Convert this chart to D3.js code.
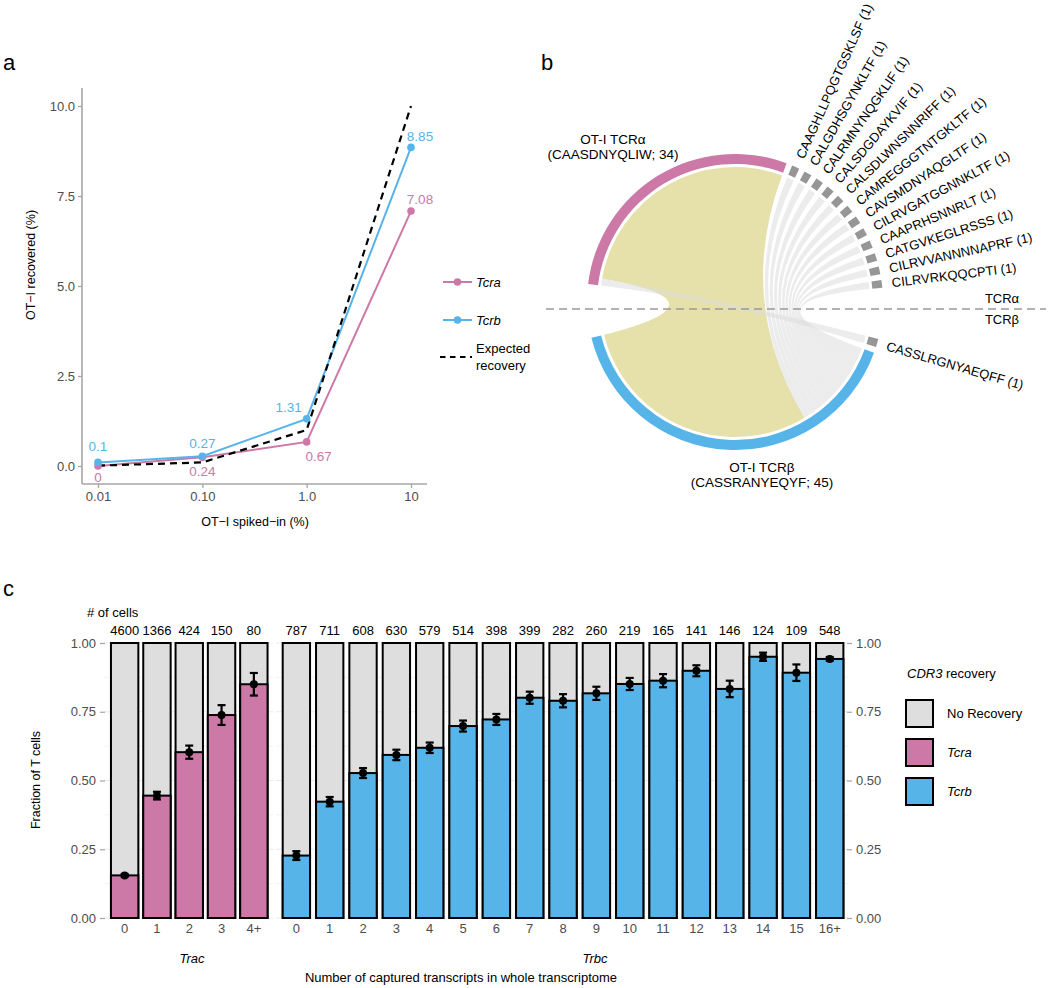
<!DOCTYPE html>
<html><head><meta charset="utf-8">
<script src="https://cdn.jsdelivr.net/npm/d3@7"></script>
<style>
body{margin:0;background:#fff}
text{font-family:"Liberation Sans",Arial,Helvetica,sans-serif}
</style>
</head><body>
<svg id="fig" width="1050" height="988"></svg>
<script>
// ---------------- DATA ----------------
// Panel a
const spikeIn = [0.01, 0.1, 1, 10];
const spikeTickLabels = ["0.01", "0.10", "1.0", "10"];
const tcraRecovered = [0, 0.24, 0.67, 7.08];
const tcrbRecovered = [0.1, 0.27, 1.31, 8.85];
const expectedRecovery = [0.01, 0.1, 1, 10];
const recoveredTicks = [0, 2.5, 5, 7.5, 10];

// Panel b
const alphaClones = ["OT-I TCRα", "CAAGHLLPQGTGSKLSF", "CALGDHSGYNKLTF", "CALRMNYNQGKLIF",
  "CALSDGDAYKVIF", "CALSDLWNSNNRIFF", "CAMREGGGTNTGKLTF", "CAVSMDNYAQGLTF",
  "CILRVGATGGNNKLTF", "CAAPRHSNNRLT", "CATGVKEGLRSSS", "CILRVVANNNNAPRF", "CILRVRKQQCPTI"];
const alphaCounts = [34, 1, 1, 1, 1, 1, 1, 1, 1, 1, 1, 1, 1];
const betaClones = ["OT-I TCRβ", "CASSLRGNYAEQFF"];
const betaCounts = [45, 1];
const pairAlpha = [0, 0, 1, 2, 3, 4, 5, 6, 7, 8, 9, 10, 11, 12];
const pairBeta  = [0, 1, 0, 0, 0, 0, 0, 0, 0, 0, 0, 0, 0, 0];
const pairCells = [33, 1, 1, 1, 1, 1, 1, 1, 1, 1, 1, 1, 1, 1];

// Panel c
const tracBins = ["0", "1", "2", "3", "4+"];
const tracCells = [4600, 1366, 424, 150, 80];
const tracFraction = [0.155, 0.445, 0.603, 0.738, 0.850];
const tracError = [0.005, 0.014, 0.024, 0.036, 0.041];
const trbcBins = ["0","1","2","3","4","5","6","7","8","9","10","11","12","13","14","15","16+"];
const trbcCells = [787, 711, 608, 630, 579, 514, 398, 399, 282, 260, 219, 165, 141, 146, 124, 109, 548];
const trbcFraction = [0.227, 0.423, 0.527, 0.593, 0.619, 0.698, 0.722, 0.801, 0.790, 0.817, 0.851, 0.863, 0.899, 0.833, 0.950, 0.892, 0.942];
const trbcError = [0.016, 0.017, 0.018, 0.019, 0.019, 0.020, 0.020, 0.022, 0.024, 0.024, 0.022, 0.024, 0.020, 0.030, 0.015, 0.030, 0.007];
const fractionTicks = [0, 0.25, 0.5, 0.75, 1];

// ---------------- STYLE ----------------
const PINK = "#CC79A7", BLUE = "#56B4E9", GREYBAR = "#DEDEDE", YELLOW = "#E6E1AB";
const AXISGREY = "#A6A6A6", TICKTXT = "#4D4D4D";

const svg = d3.select("#fig");

// panel letters
svg.append("text").attr("x", 3).attr("y", 70).attr("font-size", 22).text("a");
svg.append("text").attr("x", 541).attr("y", 70).attr("font-size", 22).text("b");
svg.append("text").attr("x", 3).attr("y", 596).attr("font-size", 22).text("c");

// ================= PANEL A =================
(function(){
  const x = d3.scaleLog().domain([0.01, 10]).range([98, 411]);
  const y = d3.scaleLinear().domain([0, 10]).range([466, 106]);
  const g = svg.append("g");
  g.append("line").attr("x1", 82).attr("x2", 82).attr("y1", 88).attr("y2", 484)
    .attr("stroke", AXISGREY).attr("stroke-width", 1.6);
  g.append("line").attr("x1", 82).attr("x2", 427).attr("y1", 484).attr("y2", 484)
    .attr("stroke", AXISGREY).attr("stroke-width", 1.6);
  const ya = g.append("g").attr("transform", "translate(82,0)")
    .call(d3.axisLeft(y).tickValues(recoveredTicks).tickFormat(d3.format(".1f")).tickSize(4).tickPadding(3));
  const xa = g.append("g").attr("transform", "translate(0,484)")
    .call(d3.axisBottom(x).tickValues(spikeIn).tickFormat((d,i)=>spikeTickLabels[i]).tickSize(4).tickPadding(4));
  [ya, xa].forEach(a => {
    a.select(".domain").remove();
    a.selectAll(".tick line").attr("stroke", AXISGREY).attr("stroke-width", 1.3);
    a.selectAll(".tick text").attr("fill", TICKTXT).attr("font-size", 13)
      .attr("font-family", '"Liberation Sans",Arial,sans-serif');
  });
  g.append("text").attr("transform", "translate(31,265) rotate(-90)").attr("text-anchor", "middle")
    .attr("dy", "0.35em").attr("font-size", 12.5).text("OT\u2212I recovered (%)");
  g.append("text").attr("x", 255).attr("y", 522).attr("text-anchor", "middle")
    .attr("dy", "0.35em").attr("font-size", 12.5).text("OT\u2212I spiked\u2212in (%)");

  const line = d3.line().x(d => x(d[0])).y(d => y(d[1]));
  const expPts = spikeIn.map((s,i)=>[s, expectedRecovery[i]]);
  const raPts = spikeIn.map((s,i)=>[s, tcraRecovered[i]]);
  const rbPts = spikeIn.map((s,i)=>[s, tcrbRecovered[i]]);
  g.append("path").attr("d", line(raPts)).attr("fill", "none").attr("stroke", PINK).attr("stroke-width", 2);
  g.append("path").attr("d", line(rbPts)).attr("fill", "none").attr("stroke", BLUE).attr("stroke-width", 2);
  g.append("path").attr("d", line(expPts)).attr("fill", "none").attr("stroke", "#000")
    .attr("stroke-width", 2.2).attr("stroke-dasharray", "7,5");
  g.selectAll(".pa").data(raPts).join("circle").attr("cx", d=>x(d[0])).attr("cy", d=>y(d[1]))
    .attr("r", 3.8).attr("fill", PINK);
  g.selectAll(".pb").data(rbPts).join("circle").attr("cx", d=>x(d[0])).attr("cy", d=>y(d[1]))
    .attr("r", 3.8).attr("fill", BLUE);

  const nudgeA = [[0, 11], [0, 14], [12, 14], [9, -12]];
  const nudgeB = [[0, -16], [0, -13], [-18, -12], [9, -11]];
  raPts.forEach((d,i)=>{
    g.append("text").attr("x", x(d[0]) + nudgeA[i][0]).attr("y", y(d[1]) + nudgeA[i][1])
      .attr("text-anchor", "middle").attr("dy", "0.35em").attr("font-size", 13.5)
      .attr("fill", PINK).text(String(tcraRecovered[i]));
  });
  rbPts.forEach((d,i)=>{
    g.append("text").attr("x", x(d[0]) + nudgeB[i][0]).attr("y", y(d[1]) + nudgeB[i][1])
      .attr("text-anchor", "middle").attr("dy", "0.35em").attr("font-size", 13.5)
      .attr("fill", BLUE).text(String(tcrbRecovered[i]));
  });

  const lg = svg.append("g");
  [[PINK, "Tcra", 282], [BLUE, "Tcrb", 320]].forEach(([c, t, yy]) => {
    lg.append("line").attr("x1", 443).attr("x2", 472).attr("y1", yy).attr("y2", yy)
      .attr("stroke", c).attr("stroke-width", 2);
    lg.append("circle").attr("cx", 457.5).attr("cy", yy).attr("r", 3.8).attr("fill", c);
    lg.append("text").attr("x", 476).attr("y", yy).attr("dy", "0.35em").attr("font-size", 13)
      .attr("font-style", "italic").text(t);
  });
  lg.append("line").attr("x1", 440).attr("x2", 472).attr("y1", 357).attr("y2", 357)
    .attr("stroke", "#000").attr("stroke-width", 2).attr("stroke-dasharray", "5.5,4.5");
  lg.append("text").attr("x", 476).attr("y", 348).attr("dy", "0.35em").attr("font-size", 13).text("Expected");
  lg.append("text").attr("x", 476).attr("y", 365).attr("dy", "0.35em").attr("font-size", 13).text("recovery");
})();

// ================= PANEL B =================
(function(){
  const cx = 735, cy = 302, rOut = 148, rIn = 138, rChord = 135, rLabel = 158;
  const rad = Math.PI / 180;
  // order: indices drawn clockwise
  function layout(counts, order, start, end, gap){
    const total = d3.sum(counts);
    const unit = (end - start - gap * (counts.length - 1)) / total;
    const secs = new Array(counts.length);
    let a = start;
    order.forEach(k => { const s = a, e = a + counts[k] * unit; a = e + gap; secs[k] = {s, e, unit, cur: s}; });
    return secs;
  }
  const aSec = layout(alphaCounts, d3.range(alphaCounts.length), -83, 84.5, 2.3);
  const bSec = layout(betaCounts, [1, 0], 104.5, 256, 2.3);

  const links = pairAlpha.map((a,i)=>({a, b: pairBeta[i], n: pairCells[i]}));
  aSec.forEach((sec, i) => {
    links.filter(l => l.a === i).sort((p,q)=>q.b - p.b).forEach(l => {
      l.as = sec.cur; l.ae = sec.cur + l.n * sec.unit; sec.cur = l.ae;
    });
  });
  bSec.forEach((sec, j) => {
    links.filter(l => l.b === j).sort((p,q)=>q.a - p.a).forEach(l => {
      l.bs = sec.cur; l.be = sec.cur + l.n * sec.unit; sec.cur = l.be;
    });
  });

  const g = svg.append("g").attr("transform", `translate(${cx},${cy})`);
  const ribbon = d3.ribbon().radius(rChord);
  const mk = l => ribbon({source: {startAngle: l.as * rad, endAngle: l.ae * rad},
                          target: {startAngle: l.bs * rad, endAngle: l.be * rad}});
  links.filter(l => l.a === 0 && l.b === 0).forEach(l => {
    g.append("path").attr("d", mk(l)).attr("fill", YELLOW);
  });
  links.filter(l => !(l.a === 0 && l.b === 0)).forEach(l => {
    g.append("path").attr("d", mk(l)).attr("fill", "#DCDCDC").attr("fill-opacity", 0.55);
  });

  const arc = d3.arc().innerRadius(rIn).outerRadius(rOut);
  aSec.forEach((s, i) => {
    g.append("path").attr("d", arc({startAngle: s.s * rad, endAngle: s.e * rad}))
      .attr("fill", i === 0 ? PINK : "#969696");
  });
  bSec.forEach((s, j) => {
    g.append("path").attr("d", arc({startAngle: s.s * rad, endAngle: s.e * rad}))
      .attr("fill", j === 0 ? BLUE : "#969696");
  });
  const lab = (name, n, s) => {
    const m = (s.s + s.e) / 2;
    g.append("text").attr("transform", `rotate(${m - 90}) translate(${rLabel},0)`)
      .attr("dy", "0.35em").attr("font-size", 13).text(`${name} (${n})`);
  };
  aSec.forEach((s, i) => { if (i > 0) lab(alphaClones[i], alphaCounts[i], s); });
  bSec.forEach((s, j) => { if (j > 0) lab(betaClones[j], betaCounts[j], s); });

  svg.append("text").attr("x", 613).attr("y", 139).attr("dy", "0.35em").attr("text-anchor", "middle")
    .attr("font-size", 13.5).text(alphaClones[0]);
  svg.append("text").attr("x", 613).attr("y", 154).attr("dy", "0.35em").attr("text-anchor", "middle")
    .attr("font-size", 13.5).text(`(CAASDNYQLIW; ${alphaCounts[0]})`);
  svg.append("text").attr("x", 762).attr("y", 467).attr("dy", "0.35em").attr("text-anchor", "middle")
    .attr("font-size", 13.5).text(betaClones[0]);
  svg.append("text").attr("x", 762).attr("y", 482).attr("dy", "0.35em").attr("text-anchor", "middle")
    .attr("font-size", 13.5).text(`(CASSRANYEQYF; ${betaCounts[0]})`);

  svg.append("line").attr("x1", 546).attr("x2", 1046).attr("y1", 309).attr("y2", 309)
    .attr("stroke", "#999").attr("stroke-width", 1.6).attr("stroke-dasharray", "8,5");
  svg.append("text").attr("x", 1002).attr("y", 298).attr("dy", "0.35em").attr("text-anchor", "middle")
    .attr("font-size", 13).text("TCRα");
  svg.append("text").attr("x", 1002).attr("y", 319).attr("dy", "0.35em").attr("text-anchor", "middle")
    .attr("font-size", 13).text("TCRβ");
})();

// ================= PANEL C =================
(function(){
  const y = d3.scaleLinear().domain([0, 1]).range([918, 643]);
  const xTrac = d3.scaleBand().domain(tracBins).range([108.5, 270]).paddingInner(0.09).paddingOuter(0.045);
  const xTrbc = d3.scaleBand().domain(trbcBins).range([279.7, 846.4]).paddingInner(0.12).paddingOuter(0.06);
  const g = svg.append("g");

  const gridVals = d3.range(0, 1.0001, 0.125);
  [[104, 273], [276, 848]].forEach(([a, b]) => {
    gridVals.forEach(v => {
      g.append("line").attr("x1", a).attr("x2", b).attr("y1", y(v)).attr("y2", y(v))
        .attr("stroke", "#EBEBEB").attr("stroke-width", (v * 4) % 1 === 0 ? 1.1 : 0.6);
    });
  });

  function drawPanel(xs, bins, cells, frac, err, color){
    bins.forEach((b, i) => {
      const x0 = xs(b), w = xs.bandwidth();
      g.append("rect").attr("x", x0 + 1).attr("width", w - 2).attr("y", y(1)).attr("height", y(0) - y(1))
        .attr("fill", GREYBAR).attr("stroke", "#000").attr("stroke-width", 2);
      g.append("rect").attr("x", x0 + 1).attr("width", w - 2).attr("y", y(frac[i])).attr("height", y(0) - y(frac[i]))
        .attr("fill", color).attr("stroke", "#000").attr("stroke-width", 2);
      const xc = x0 + w / 2;
      const lo = y(frac[i] - err[i]), hi = y(frac[i] + err[i]);
      g.append("line").attr("x1", xc).attr("x2", xc).attr("y1", lo).attr("y2", hi)
        .attr("stroke", "#000").attr("stroke-width", 2.2);
      [lo, hi].forEach(yy => g.append("line").attr("x1", xc - 4).attr("x2", xc + 4).attr("y1", yy).attr("y2", yy)
        .attr("stroke", "#000").attr("stroke-width", 2.2));
      g.append("circle").attr("cx", xc).attr("cy", y(frac[i])).attr("r", 4).attr("fill", "#000");
      g.append("text").attr("x", xc).attr("y", 630).attr("dy", "0.35em").attr("text-anchor", "middle")
        .attr("font-size", 13).text(cells[i]);
      g.append("text").attr("x", xc).attr("y", 928).attr("dy", "0.35em").attr("text-anchor", "middle")
        .attr("font-size", 13).attr("fill", TICKTXT).text(b);
    });
  }
  drawPanel(xTrac, tracBins, tracCells, tracFraction, tracError, PINK);
  drawPanel(xTrbc, trbcBins, trbcCells, trbcFraction, trbcError, BLUE);

  const yl = g.append("g").attr("transform", "translate(105,0)")
    .call(d3.axisLeft(y).tickValues(fractionTicks).tickFormat(d3.format(".2f")).tickSize(5).tickPadding(4));
  const yr = g.append("g").attr("transform", "translate(847,0)")
    .call(d3.axisRight(y).tickValues(fractionTicks).tickFormat(d3.format(".2f")).tickSize(5).tickPadding(4));
  [yl, yr].forEach(a => {
    a.select(".domain").remove();
    a.selectAll(".tick line").attr("stroke", AXISGREY).attr("stroke-width", 1.2);
    a.selectAll(".tick text").attr("fill", TICKTXT).attr("font-size", 13)
      .attr("font-family", '"Liberation Sans",Arial,sans-serif');
  });

  g.append("text").attr("x", 87).attr("y", 612).attr("dy", "0.35em").attr("font-size", 13).text("# of cells");
  g.append("text").attr("transform", "translate(36,780) rotate(-90)").attr("text-anchor", "middle")
    .attr("dy", "0.35em").attr("font-size", 12.5).text("Fraction of T cells");
  g.append("text").attr("x", 192).attr("y", 958).attr("dy", "0.35em").attr("text-anchor", "middle")
    .attr("font-size", 13).attr("font-style", "italic").text("Trac");
  g.append("text").attr("x", 595).attr("y", 958).attr("dy", "0.35em").attr("text-anchor", "middle")
    .attr("font-size", 13).attr("font-style", "italic").text("Trbc");
  g.append("text").attr("x", 461).attr("y", 977).attr("dy", "0.35em").attr("text-anchor", "middle")
    .attr("font-size", 13).text("Number of captured transcripts in whole transcriptome");

  const lt = g.append("text").attr("x", 907).attr("y", 673).attr("dy", "0.35em").attr("font-size", 13);
  lt.append("tspan").attr("font-style", "italic").text("CDR3");
  lt.append("tspan").text(" recovery");
  [[GREYBAR, "No Recovery", 713, false], [PINK, "Tcra", 752, true], [BLUE, "Tcrb", 791, true]].forEach(([c, t, yy, it]) => {
    g.append("rect").attr("x", 906).attr("y", yy - 13).attr("width", 27).attr("height", 27)
      .attr("fill", c).attr("stroke", "#000").attr("stroke-width", 2);
    g.append("text").attr("x", 947).attr("y", yy).attr("dy", "0.35em").attr("font-size", 13)
      .attr("font-style", it ? "italic" : "normal").text(t);
  });
})();
</script>
</body></html>
